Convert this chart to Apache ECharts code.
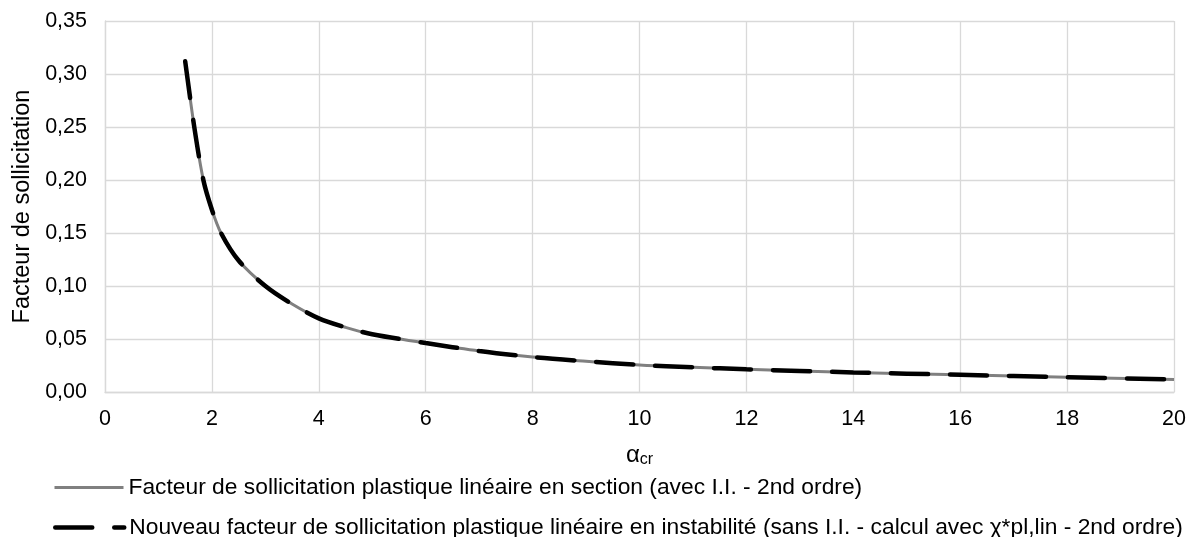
<!DOCTYPE html>
<html><head><meta charset="utf-8">
<script src="https://cdn.jsdelivr.net/npm/echarts@6/dist/echarts.min.js"></script>
<style>html,body{margin:0;padding:0;background:#fff}#c{width:1189px;height:537px}</style>
</head><body><div id="c"></div>
<script>
const alphaCr = [1.5, 1.67, 1.84, 2.0, 2.17, 2.5, 3.0, 3.5, 4.0, 4.5, 5.0, 6, 7, 8, 9, 10, 11, 12, 14, 16, 18, 20];
const sectionVals = [0.312, 0.250, 0.200, 0.172, 0.150, 0.124, 0.100, 0.083, 0.0695, 0.061, 0.0545, 0.0462, 0.0387, 0.033, 0.029, 0.0255, 0.0233, 0.0214, 0.0185, 0.0162, 0.014, 0.0118];
const instabVals = [0.312, 0.250, 0.200, 0.172, 0.150, 0.124, 0.100, 0.083, 0.0695, 0.061, 0.0545, 0.0462, 0.0387, 0.033, 0.029, 0.0255, 0.0233, 0.0214, 0.0185, 0.0162, 0.014, 0.0118];
const seriesNames = [
  'Facteur de sollicitation plastique linéaire en section (avec I.I. - 2nd ordre)',
  'Nouveau facteur de sollicitation plastique linéaire en instabilité (sans I.I. - calcul avec χ*pl,lin - 2nd ordre)'
];
const font = "'Liberation Sans', Arial, sans-serif";
const legendBase = {
  orient: 'horizontal', left: 53, padding: 0, itemWidth: 69, itemHeight: 14, itemGap: 5,
  itemStyle: {opacity: 0},
  textStyle: {fontSize: 22.8, lineHeight: 23, color: '#000', fontFamily: font}
};
const chart = echarts.init(document.getElementById('c'), null, {renderer: 'canvas'});
chart.setOption({
  animation: false,
  textStyle: {fontFamily: font},
  grid: {left: 105, right: 14, top: 21, bottom: 145},
  xAxis: {
    type: 'value', min: 0, max: 20, interval: 2,
    name: '{a|α}{s|cr}', nameLocation: 'middle', nameGap: 50,
    nameTextStyle: {rich: {a: {fontSize: 24, fontFamily: font, color: '#000'}, s: {fontSize: 16, fontFamily: font, color: '#000', padding: [10, 0, 0, 0]}}},
    axisLine: {show: true, lineStyle: {color: '#d9d9d9', width: 1.3}},
    axisTick: {show: false},
    axisLabel: {fontSize: 21.5, color: '#000', margin: 16, fontFamily: font},
    splitLine: {show: true, lineStyle: {color: '#d9d9d9', width: 1.3}}
  },
  yAxis: {
    type: 'value', min: 0, max: 0.35, interval: 0.05,
    name: 'Facteur de sollicitation', nameLocation: 'middle', nameGap: 68,
    nameTextStyle: {fontSize: 23.5, color: '#000', fontFamily: font},
    axisLine: {show: true, lineStyle: {color: '#d9d9d9', width: 1.3}},
    axisTick: {show: false},
    axisLabel: {fontSize: 21.5, color: '#000', margin: 18, fontFamily: font, formatter: v => v.toFixed(2).replace('.', ',')},
    splitLine: {show: true, lineStyle: {color: '#d9d9d9', width: 1.3}}
  },
  legend: [
    Object.assign({}, legendBase, {top: 476, data: [seriesNames[0]], lineStyle: {color: '#808080', width: 3}}),
    Object.assign({}, legendBase, {top: 516, data: [seriesNames[1]], lineStyle: {color: '#000', width: 4.5, type: [37, 22], cap: 'round'}})
  ],
  series: [
    {name: seriesNames[0], type: 'line', data: alphaCr.map((a, i) => [a, sectionVals[i]]), showSymbol: false, symbol: 'none', smooth: 0.3,
     lineStyle: {color: '#808080', width: 3}, itemStyle: {color: '#808080'}, z: 2},
    {name: seriesNames[1], type: 'line', data: alphaCr.map((a, i) => [a, instabVals[i]]), showSymbol: false, symbol: 'none', smooth: 0.3,
     lineStyle: {color: '#000', width: 4.5, type: [37, 22], cap: 'round'}, itemStyle: {color: '#000'}, z: 3}
  ]
});
</script></body></html>
